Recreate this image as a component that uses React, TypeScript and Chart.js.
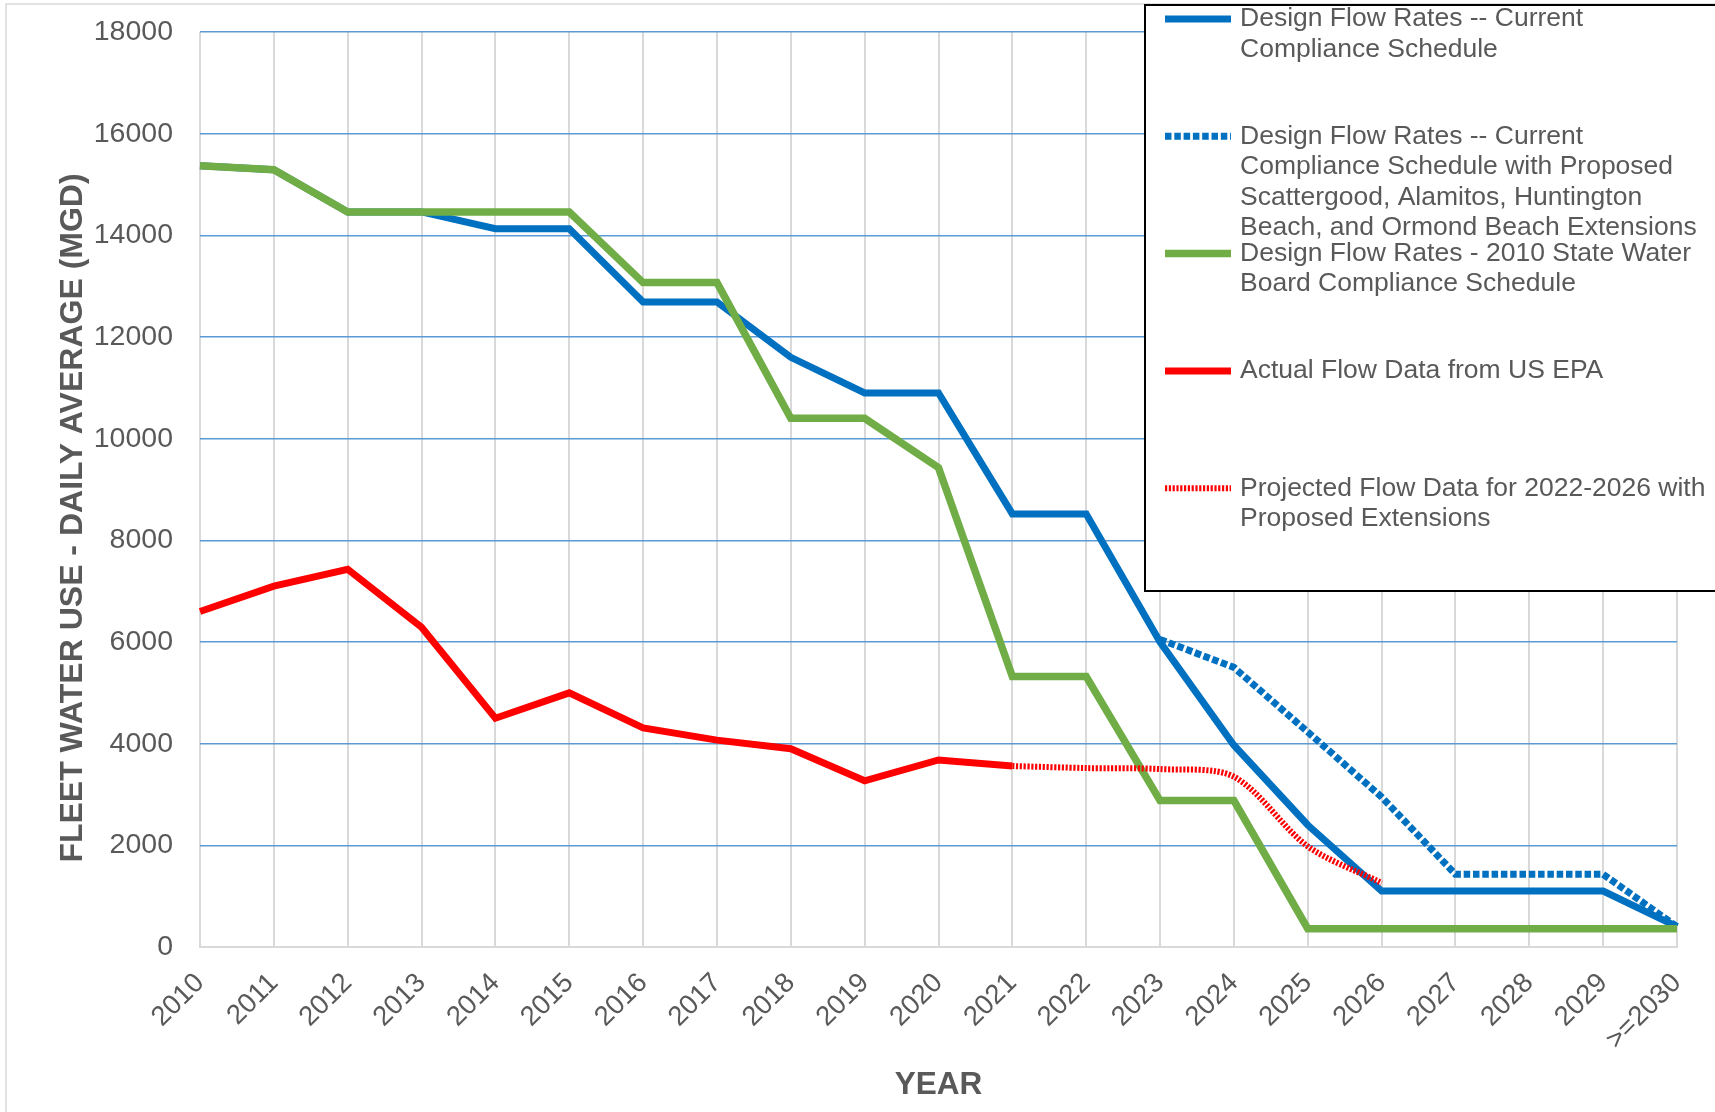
import React, { useEffect, useRef } from 'react';
import { Chart, registerables } from 'chart.js';

Chart.register(...registerables);

const YEARS = ['2010', '2011', '2012', '2013', '2014', '2015', '2016', '2017', '2018', '2019', '2020',
  '2021', '2022', '2023', '2024', '2025', '2026', '2027', '2028', '2029', '>=2030'];

const DESIGN_CURRENT = [15370, 15290, 14460, 14460, 14130, 14130, 12690, 12690, 11600, 10900, 10900,
  8520, 8520, 6000, 3970, 2400, 1100, 1100, 1100, 1100, 400];

const DESIGN_EXTENSIONS = [null, null, null, null, null, null, null, null, null, null, null,
  null, null, 6050, 5500, 4230, 2950, 1430, 1430, 1430, 400];

const DESIGN_2010_BOARD = [15370, 15290, 14460, 14460, 14460, 14460, 13070, 13070, 10400, 10400, 9430,
  5320, 5320, 2880, 2880, 360, 360, 360, 360, 360, 360];

const ACTUAL_EPA = [6600, 7100, 7430, 6290, 4500, 5000, 4310, 4070, 3900, 3270, 3680,
  3560, null, null, null, null, null, null, null, null, null];

const PROJECTED = [null, null, null, null, null, null, null, null, null, null, null,
  3560, 3520, 3500, 3350, 1980, 1260, null, null, null, null];

const Y_TICK_MIN = 0;
const Y_TICK_MAX = 18000;
const Y_TICK_STEP = 2000;

const LEGEND_LINES = [
  ['Design Flow Rates -- Current', 'Compliance Schedule'],
  ['Design Flow Rates -- Current', 'Compliance Schedule with Proposed', 'Scattergood, Alamitos, Huntington', 'Beach, and Ormond Beach Extensions'],
  ['Design Flow Rates - 2010 State Water', 'Board Compliance Schedule'],
  ['Actual Flow Data from US EPA'],
  ['Projected Flow Data for 2022-2026 with', 'Proposed Extensions'],
];

const Y_TITLE = 'FLEET WATER USE - DAILY AVERAGE (MGD)';
const X_TITLE = 'YEAR';

const FONT = '"Liberation Sans", Arial, sans-serif';
const TEXT = '#595959';

const overlayPlugin = {
  id: 'overlay',
  beforeDraw(chart: any) {
    const ctx = chart.ctx;
    ctx.save();
    ctx.fillStyle = '#ffffff';
    ctx.fillRect(0, 0, chart.width, chart.height);
    ctx.strokeStyle = '#d9d9d9';
    ctx.lineWidth = 1.5;
    ctx.strokeRect(6, 4, chart.width + 50, chart.height + 50);
    ctx.restore();
  },
  afterDraw(chart: any) {
    const ctx = chart.ctx;
    const area = chart.chartArea;
    ctx.save();
    // axis titles
    ctx.fillStyle = TEXT;
    ctx.font = `bold 32px ${FONT}`;
    ctx.textAlign = 'center';
    ctx.textBaseline = 'middle';
    ctx.save();
    ctx.translate(73, 518);
    ctx.rotate(-Math.PI / 2);
    ctx.fillText(Y_TITLE, 0, 0);
    ctx.restore();
    ctx.font = `bold 31.5px ${FONT}`;
    ctx.fillText(X_TITLE, (area.left + area.right) / 2, 1085);

    // legend box
    const bx = 1145, by = 5, bh = 586;
    ctx.fillStyle = '#ffffff';
    ctx.fillRect(bx, by, chart.width - bx + 20, bh);
    ctx.strokeStyle = '#000000';
    ctx.lineWidth = 2;
    ctx.strokeRect(bx, by, chart.width - bx + 20, bh);

    chart.data.datasets.forEach((ds: any, i: number) => {
      const y0 = 19 + i * 117.3;
      ctx.beginPath();
      ctx.setLineDash(ds.borderDash || []);
      ctx.lineCap = 'butt';
      ctx.strokeStyle = ds.borderColor;
      ctx.lineWidth = ds.borderWidth;
      ctx.moveTo(1165, y0);
      ctx.lineTo(1231, y0);
      ctx.stroke();
      ctx.setLineDash([]);
      ctx.fillStyle = TEXT;
      ctx.font = `26.5px ${FONT}`;
      ctx.textAlign = 'left';
      ctx.textBaseline = 'middle';
      (LEGEND_LINES[i] || []).forEach((t, j) => ctx.fillText(t, 1240, y0 + j * 30.5));
    });
    ctx.restore();
  },
};

export default function App() {
  const ref = useRef<HTMLCanvasElement | null>(null);

  useEffect(() => {
    if (!ref.current) return;
    const chart = new Chart(ref.current, {
      type: 'line',
      data: {
        labels: YEARS,
        datasets: [
          {
            label: LEGEND_LINES[0].join(' '),
            data: DESIGN_CURRENT,
            borderColor: '#0070C0',
            backgroundColor: '#0070C0',
            borderWidth: 7,
            pointRadius: 0,
            order: 5,
          },
          {
            label: LEGEND_LINES[1].join(' '),
            data: DESIGN_EXTENSIONS,
            borderColor: '#0070C0',
            backgroundColor: '#0070C0',
            borderWidth: 7,
            borderDash: [6.5, 2.8],
            pointRadius: 0,
            order: 4,
          },
          {
            label: LEGEND_LINES[2].join(' '),
            data: DESIGN_2010_BOARD,
            borderColor: '#70AD47',
            backgroundColor: '#70AD47',
            borderWidth: 7.5,
            pointRadius: 0,
            order: 3,
          },
          {
            label: LEGEND_LINES[3].join(' '),
            data: ACTUAL_EPA,
            borderColor: '#FF0000',
            backgroundColor: '#FF0000',
            borderWidth: 7,
            pointRadius: 0,
            order: 2,
          },
          {
            label: LEGEND_LINES[4].join(' '),
            data: PROJECTED,
            borderColor: '#FF0000',
            backgroundColor: '#FF0000',
            borderWidth: 6,
            borderDash: [2.2, 1.6],
            tension: 0.3,
            pointRadius: 0,
            order: 1,
          },
        ],
      },
      options: {
        animation: false,
        responsive: false,
        devicePixelRatio: 1,
        layout: { autoPadding: false, padding: { left: 0, top: 32, right: 38, bottom: 0 } },
        plugins: {
          legend: { display: false },
          tooltip: { enabled: false },
        },
        scales: {
          x: {
            type: 'category',
            offset: false,
            grid: { color: '#d9d9d9', lineWidth: 2, drawTicks: false },
            border: { display: true, color: '#d9d9d9', width: 2 },
            ticks: {
              autoSkip: false,
              maxRotation: 45,
              minRotation: 45,
              padding: 20,
              color: TEXT,
              font: { family: FONT, size: 27.5 },
            },
            afterFit: (s: any) => {
              s.height = 1112 - 947;
              s.paddingLeft = 0;
              s.paddingRight = 0;
            },
          },
          y: {
            min: Y_TICK_MIN,
            max: Y_TICK_MAX,
            grid: {
              drawTicks: false,
              color: (c: any) => (c.tick && c.tick.value === 0 ? '#d9d9d9' : '#5B9BD5'),
              lineWidth: (c: any) => (c.tick && c.tick.value === 0 ? 2 : 1.5),
            },
            border: { display: false },
            ticks: {
              stepSize: Y_TICK_STEP,
              padding: 27,
              color: TEXT,
              font: { family: FONT, size: 28.5 },
              callback: (v: any) => String(v),
            },
            afterFit: (s: any) => {
              s.width = 200;
              s.paddingTop = 0;
              s.paddingBottom = 0;
            },
          },
        },
      },
      plugins: [overlayPlugin],
    } as any);
    return () => chart.destroy();
  }, []);

  return (
    <div style={{ position: 'fixed', left: 0, top: 0, width: 1715, height: 1112, background: '#fff' }}>
      <canvas ref={ref} width={1715} height={1112} style={{ width: 1715, height: 1112, display: 'block' }} />
    </div>
  );
}
